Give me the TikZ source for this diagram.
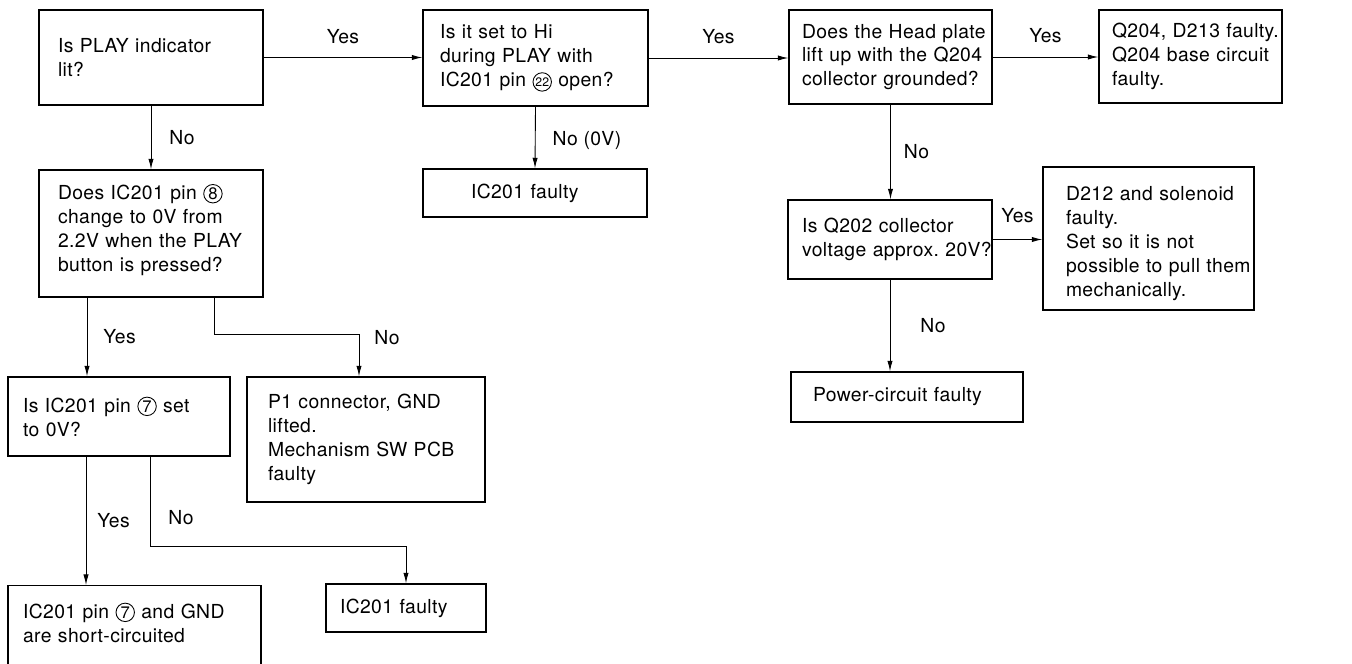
\documentclass[tikz,border=0pt]{standalone}
\usepackage{fontspec}
\setmainfont{TeX Gyre Heros}[LetterSpace=2.0]
\usetikzlibrary{arrows.meta, positioning, calc}
\frenchspacing

% circled pin number
\newcommand{\pinno}[2][9.5pt]{\tikz[baseline=(pn.base)]\node[draw, circle, line width=0.5pt, inner sep=0pt, minimum size=10.5pt, minimum height=10.5pt, text width={}, text depth={}, text height={}, anchor=center, execute at begin node={}, font=\fontsize{#1}{#1}\selectfont] (pn) {#2};}

\begin{document}
\begin{tikzpicture}[
    x=0.02cm, y=-0.02cm,
    >={Latex[length=6pt,width=3pt]},
    font=\fontsize{11pt}{13.6pt}\selectfont,
    box/.style 2 args={draw, line width=0.8pt, align=left, inner sep=0pt, text width=#1,
        execute at begin node={\leftskip=#2\rightskip=-3cm plus 1fil}},
    link/.style={->, line width=0.5pt},
    lbl/.style={inner sep=0pt}
]
\useasboundingbox (0,0) rectangle (1352,663);

% Top row
\node[box={4.48cm}{0.38cm}, minimum height=1.90cm] (play) at (151,57.5) {Is PLAY indicator\\lit?};
\node[box={4.50cm}{0.34cm}, minimum height=1.92cm] (hi) at (535.5,58) {Is it set to Hi\\during PLAY with\\IC201 pin \pinno[7pt]{22} open?};
\node[box={4.06cm}{0.26cm}, minimum height=1.88cm] (head) at (890.5,57) {Does the Head plate\\lift up with the Q204\\collector grounded?};
\node[box={3.66cm}{0.26cm}, minimum height=1.86cm] (qfault) at (1190.5,56.5) {Q204, D213 faulty.\\Q204 base circuit\\faulty.};

% Second row
\node[box={4.48cm}{0.96cm}, minimum height=0.96cm] (icfa) at (535,193) {IC201 faulty};
\node[box={4.48cm}{0.38cm}, minimum height=2.54cm, text height=4.5pt] (pin8) at (151,233.5) {Does IC201 pin \pinno{8}\\change to 0V from\\2.2V when the PLAY\\button is pressed?};
\node[box={4.08cm}{0.28cm}, minimum height=1.58cm] (q202) at (890,239.5) {Is Q202 collector\\voltage approx. 20V?};
\node[box={4.22cm}{0.46cm}, minimum height=2.86cm, text height=13.5pt] (sol) at (1148.5,238.5) {D212 and solenoid\\faulty.\\Set so it is not\\possible to pull them\\mechanically.};
\node[box={4.64cm}{0.44cm}, minimum height=1.00cm] (power) at (907,397) {Power-circuit faulty};

% Lower left
\node[box={4.44cm}{0.30cm}, minimum height=1.58cm] (pin7) at (119,416.5) {Is IC201 pin \pinno{7} set\\to 0V?};
\node[box={4.76cm}{0.42cm}, minimum height=2.50cm] (p1) at (366,439.5) {P1 connector, GND\\lifted.\\Mechanism SW PCB\\faulty};
\node[box={5.06cm}{0.30cm}, anchor=north, inner ysep=0.34cm, text depth=2cm] (short) at (134.5,585) {IC201 pin \pinno{7} and GND\\are short-circuited};
\node[box={3.20cm}{0.28cm}, minimum height=0.96cm] (icfb) at (406,608) {IC201 faulty};

% Yes branches
\draw[link] (play.east) -- (play.east -| hi.west) node[lbl, midway, above=0.26cm] (yes1) {Yes};
\draw[link] (hi.east) -- (hi.east -| head.west) node[lbl, midway, above=0.27cm] (yes2) {Yes};
\draw[link] (head.east) -- (head.east -| qfault.west) node[lbl, midway, above=0.27cm] (yes3) {Yes};
\draw[link] (q202.east) -- (q202.east -| sol.west) node[lbl, midway, above=0.32cm] (yes4) {Yes};

% No branches
\draw[link] (play.south) -- (pin8.north) node[lbl, midway, right=0.36cm] (no1) {No};
\draw[link] (hi.south) -- (icfa.north) node[lbl, midway, right=0.34cm, yshift=-0.06cm] (no2) {No (0V)};
\draw[link] (head.south) -- (head.south |- q202.north) node[lbl, midway, right=0.26cm] (no3) {No};
\draw[link] (q202.south) -- (q202.south |- power.north) node[lbl, midway, right=0.6cm] (no4) {No};

% Left column
\coordinate (p8y) at ([xshift=-1.28cm]pin8.south);
\coordinate (p8n) at ([xshift=1.26cm]pin8.south);
\coordinate (p7y) at ([xshift=-0.66cm]pin7.south);
\coordinate (p7n) at ([xshift=0.62cm]pin7.south);

\draw[link] (p8y) -- (p8y |- pin7.north) node[lbl, midway, right=0.32cm] (yes5) {Yes};
\draw[link] (p8n) -- ++(0,37) -| ([xshift=-0.14cm]p1.north) node[lbl, pos=0.54, right=0.3cm] (no5) {No};
\draw[link] (p7y) -- (p7y |- short.north) node[lbl, midway, right=0.22cm] (yes6) {Yes};
\draw[link] (p7n) -- ++(0,90) node[lbl, pos=0.68, right=0.36cm] (no6) {No} -| (icfb.north);

\end{tikzpicture}
\end{document}
